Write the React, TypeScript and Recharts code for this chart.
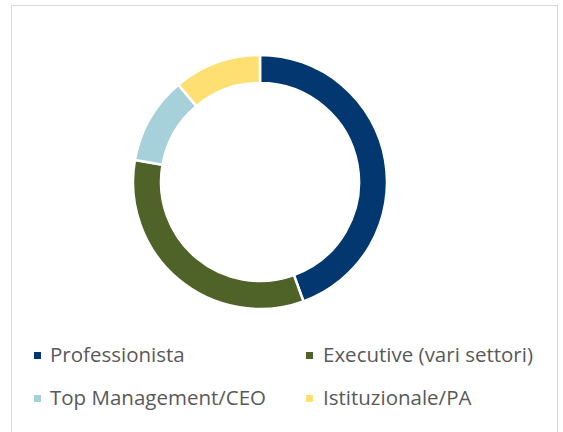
import React from 'react';
import { PieChart, Pie, Cell, Legend } from 'recharts';

// respondent profile (counts)
const categories = ['Professionista', 'Executive (vari settori)', 'Top Management/CEO', 'Istituzionale/PA'];
const counts = [4, 3, 1, 1];
const colors = ['#02386F', '#4F6228', '#A6D1DA', '#FEDF72'];

const data = categories.map((name, i) => ({ name, value: counts[i] }));

const legendPos = [
  { sq: 34, tx: 50, top: 340 },
  { sq: 306, tx: 323, top: 340 },
  { sq: 34, tx: 50, top: 383 },
  { sq: 306, tx: 323, top: 383 },
];

// legend keeps the series order (recharts would sort it by name)
const renderLegend = () => (
  <div style={{ position: 'relative', width: 563, height: 90 }}>
    {categories.map((name, i) => {
      const p = legendPos[i];
      return (
        <div key={name} style={{ position: 'absolute', left: 0, top: p.top - 338, width: 563, height: 28 }}>
          <div
            style={{
              position: 'absolute',
              left: p.sq,
              top: 12,
              width: 7,
              height: 7,
              background: colors[i],
            }}
          />
          <div
            style={{
              position: 'absolute',
              left: p.tx,
              top: 0,
              fontFamily: '"Open Sans", sans-serif',
              fontSize: 20.5,
              lineHeight: '28px',
              color: '#595959',
              whiteSpace: 'nowrap',
            }}
          >
            {name}
          </div>
        </div>
      );
    })}
  </div>
);

export default function App() {
  return (
    <div style={{ position: 'absolute', left: 0, top: 0, width: 563, height: 432, background: '#fff', overflow: 'hidden' }}>
      <div
        style={{
          position: 'absolute',
          left: 11,
          top: 5,
          width: 545,
          height: 440,
          border: '1px solid #D9D9D9',
        }}
      />
      <PieChart
        width={563}
        height={432}
        margin={{ top: 0, right: 0, bottom: 0, left: 0 }}
        style={{ position: 'absolute', left: 0, top: 0 }}
      >
        <Pie
          data={data}
          dataKey="value"
          nameKey="name"
          cx={260}
          cy={182}
          innerRadius={99}
          outerRadius={127}
          startAngle={90}
          endAngle={-270}
          stroke="#fff"
          strokeWidth={2.5}
          isAnimationActive={false}
        >
          {data.map((d, i) => (
            <Cell key={d.name} fill={colors[i]} />
          ))}
        </Pie>
        <Legend
          content={renderLegend}
          wrapperStyle={{ position: 'absolute', left: 0, top: 338, width: 563 }}
        />
      </PieChart>
    </div>
  );
}
